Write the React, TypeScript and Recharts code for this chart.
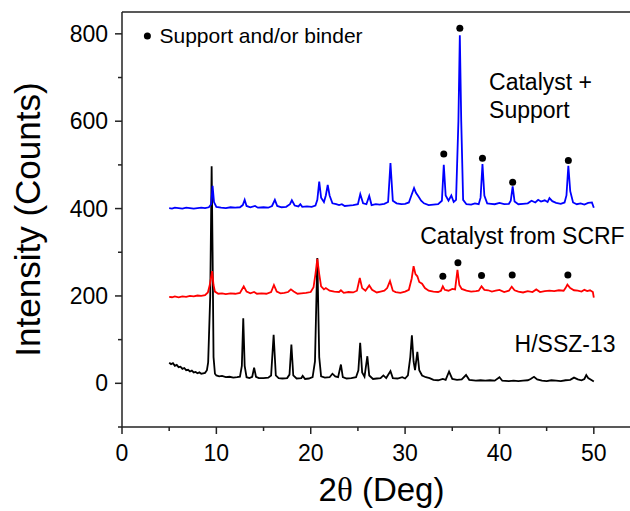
import { ComposedChart, Line, Scatter, XAxis, YAxis, ReferenceLine, ReferenceDot } from "recharts";

// [2θ, counts]
const hssz13: [number, number][] = [
  [5.0, 47], [5.2, 44], [5.4, 46], [5.6, 40], [5.8, 42], [6.0, 37], [6.2, 38], [6.4, 33], [6.6, 35], [6.8, 30],
  [7.0, 31], [7.2, 27], [7.4, 29], [7.6, 25], [7.8, 26], [8.0, 23], [8.2, 25], [8.4, 22], [8.6, 23], [8.8, 24],
  [9.0, 30], [9.13, 48], [9.35, 200], [9.5, 497], [9.6, 300], [9.7, 60], [9.85, 22], [10.0, 18], [10.3, 16], [10.6, 17],
  [11.0, 14], [11.4, 15], [11.8, 13], [12.2, 14], [12.5, 15], [12.7, 40], [12.85, 149], [13.0, 40], [13.2, 14], [13.5, 12],
  [13.8, 15], [14.0, 36], [14.2, 15], [14.5, 12], [15.0, 12], [15.5, 13], [15.8, 18], [16.07, 111], [16.3, 18], [16.6, 12],
  [17.0, 11], [17.5, 12], [17.75, 20], [17.95, 89], [18.15, 18], [18.5, 11], [19.0, 12], [19.15, 17], [19.4, 10], [19.8, 11],
  [20.2, 14], [20.45, 50], [20.7, 287], [20.9, 60], [21.1, 16], [21.5, 13], [22.0, 14], [22.3, 22], [22.6, 16], [22.9, 14],
  [23.2, 43], [23.4, 14], [23.8, 11], [24.3, 12], [24.8, 14], [25.05, 30], [25.24, 93], [25.45, 25], [25.7, 15], [26.0, 62],
  [26.2, 18], [26.6, 10], [27.0, 11], [27.4, 12], [27.7, 18], [28.0, 12], [28.45, 28], [28.7, 12], [29.2, 11], [29.7, 14],
  [30.0, 11], [30.3, 18], [30.55, 60], [30.72, 110], [30.9, 50], [31.05, 30], [31.3, 72], [31.5, 30], [31.8, 18], [32.2, 14],
  [32.6, 12], [33.0, 8], [33.5, 7], [34.0, 10], [34.3, 8], [34.66, 27], [35.0, 10], [35.5, 8], [36.0, 9], [36.46, 19],
  [36.8, 8], [37.5, 6], [38.0, 7], [38.5, 6], [39.0, 7], [39.5, 6], [40.0, 14], [40.3, 6], [41.0, 5], [41.5, 6],
  [42.0, 5], [42.5, 6], [43.0, 7], [43.3, 10], [43.66, 15], [44.0, 9], [44.5, 6], [45.0, 5], [45.5, 7], [46.0, 6],
  [46.5, 5], [47.0, 7], [47.5, 8], [47.9, 13], [48.3, 9], [48.7, 7], [49.0, 10], [49.2, 19], [49.4, 12], [49.7, 8], [50.0, 4],
];

const fromScrf: [number, number][] = [
  [5.0, 198], [5.3, 197], [5.6, 199], [6.0, 197], [6.4, 199], [6.8, 198], [7.2, 200], [7.6, 199], [8.0, 201], [8.4, 200],
  [8.8, 202], [9.1, 208], [9.3, 225], [9.55, 257], [9.7, 225], [9.85, 210], [10.2, 205], [10.6, 206], [11.0, 204], [11.5, 206],
  [12.0, 205], [12.5, 207], [12.9, 222], [13.2, 210], [13.6, 206], [14.0, 209], [14.3, 205], [14.8, 206], [15.3, 205], [15.8, 209],
  [16.1, 225], [16.4, 210], [16.8, 206], [17.2, 207], [17.6, 209], [17.9, 215], [18.2, 210], [18.6, 205], [19.0, 206], [19.5, 207],
  [20.0, 209], [20.3, 220], [20.5, 250], [20.7, 285], [20.9, 250], [21.1, 222], [21.4, 215], [21.6, 218], [22.0, 212], [22.5, 210],
  [23.0, 209], [23.2, 213], [23.5, 207], [24.0, 209], [24.5, 208], [24.9, 212], [25.2, 241], [25.45, 218], [25.8, 212], [26.2, 224],
  [26.5, 214], [27.0, 208], [27.4, 210], [27.8, 212], [28.1, 218], [28.4, 234], [28.7, 212], [29.0, 209], [29.5, 207], [30.0, 210],
  [30.4, 214], [30.7, 240], [30.9, 268], [31.1, 250], [31.3, 245], [31.5, 232], [31.8, 228], [32.1, 218], [32.5, 212], [33.0, 210],
  [33.5, 209], [33.8, 212], [34.0, 222], [34.2, 214], [34.6, 212], [35.0, 216], [35.3, 215], [35.55, 260], [35.75, 225], [36.0, 216],
  [36.5, 212], [37.0, 210], [37.5, 211], [37.8, 212], [38.1, 222], [38.4, 214], [38.8, 213], [39.2, 210], [39.6, 212], [40.0, 214],
  [40.5, 209], [41.0, 212], [41.3, 221], [41.6, 213], [42.0, 210], [42.5, 208], [43.0, 211], [43.5, 209], [43.9, 215], [44.3, 209],
  [44.8, 211], [45.3, 212], [45.8, 211], [46.3, 213], [46.8, 212], [47.0, 218], [47.2, 226], [47.5, 218], [47.9, 213], [48.3, 212],
  [48.7, 210], [49.0, 214], [49.3, 211], [49.6, 213], [49.9, 209], [50.0, 196],
];

const withSupport: [number, number][] = [
  [5.0, 401], [5.3, 400], [5.6, 402], [6.0, 401], [6.4, 400], [6.8, 402], [7.2, 401], [7.6, 400], [8.0, 401], [8.4, 402],
  [8.8, 401], [9.2, 403], [9.45, 410], [9.6, 452], [9.75, 415], [10.0, 404], [10.5, 402], [11.0, 401], [11.5, 403], [12.0, 402],
  [12.5, 403], [12.8, 408], [13.0, 420], [13.2, 406], [13.6, 403], [14.1, 406], [14.4, 402], [15.0, 403], [15.5, 402], [15.9, 406],
  [16.2, 420], [16.45, 406], [16.9, 403], [17.4, 404], [17.8, 410], [18.0, 419], [18.3, 407], [18.7, 405], [18.9, 410], [19.1, 404],
  [19.6, 405], [20.1, 404], [20.5, 407], [20.7, 420], [20.9, 462], [21.1, 425], [21.4, 415], [21.6, 430], [21.8, 454], [22.0, 430],
  [22.3, 412], [22.7, 410], [23.0, 408], [23.3, 410], [23.6, 406], [24.0, 407], [24.5, 408], [25.0, 410], [25.25, 433], [25.55, 412],
  [25.9, 410], [26.2, 429], [26.45, 408], [26.9, 410], [27.3, 409], [27.8, 411], [28.2, 415], [28.45, 504], [28.7, 418], [29.1, 412],
  [29.6, 410], [30.0, 411], [30.4, 414], [30.75, 435], [30.95, 447], [31.15, 436], [31.4, 428], [31.7, 418], [32.0, 412], [32.5, 408],
  [33.0, 409], [33.5, 410], [33.9, 418], [34.1, 500], [34.3, 430], [34.6, 418], [34.9, 430], [35.15, 415], [35.4, 420], [35.65, 600],
  [35.8, 797], [35.95, 600], [36.15, 420], [36.5, 410], [37.0, 409], [37.4, 412], [37.8, 410], [38.0, 425], [38.2, 502], [38.4, 430],
  [38.7, 412], [39.1, 411], [39.5, 410], [40.0, 413], [40.5, 410], [41.0, 411], [41.2, 418], [41.4, 451], [41.6, 416], [42.0, 410],
  [42.5, 411], [43.0, 412], [43.4, 418], [43.8, 414], [44.1, 420], [44.4, 416], [44.8, 419], [45.1, 415], [45.3, 424], [45.6, 417],
  [46.0, 413], [46.5, 411], [46.9, 414], [47.1, 430], [47.3, 498], [47.5, 440], [47.8, 414], [48.2, 410], [48.6, 412], [49.0, 409],
  [49.4, 413], [49.8, 414], [50.0, 402],
];

// support / binder markers
const supportMarks: [number, number][] = [
  [2.69, 795],
  [34.1, 525], [35.8, 813], [38.2, 515], [41.4, 460], [47.3, 510],
  [34.0, 245], [35.6, 276], [38.1, 247], [41.35, 248], [47.25, 248],
];

const annotations: { x: number; y: number; text: string; size: number }[] = [
  { x: 3.97, y: 780, text: "Support and/or binder", size: 21 },
  { x: 38.9, y: 672, text: "Catalyst +", size: 23 },
  { x: 38.9, y: 607, text: "Support", size: 23 },
  { x: 31.6, y: 319, text: "Catalyst from SCRF", size: 23 },
  { x: 41.6, y: 72, text: "H/SSZ-13", size: 23 },
];

const xTicks = [0, 5, 10, 15, 20, 25, 30, 35, 40, 45, 50, 55];
const yTicks = [-100, 0, 100, 200, 300, 400, 500, 600, 700, 800];

const toPoints = (arr: [number, number][]) => arr.map(([x, y]) => ({ x, y }));

const FONT = "'Liberation Sans', Arial, sans-serif";
const AXIS = "#222";

const YTick = ({ x, y, payload }: any) => {
  const major = payload.value % 200 === 0;
  return (
    <g>
      <line x1={x - (major ? 7 : 4)} x2={x} y1={y} y2={y} stroke={AXIS} strokeWidth={1.5} />
      {major && (
        <text x={x - 14} y={y + 8} textAnchor="end" fontSize={23} fontFamily={FONT} fill="#000">
          {payload.value}
        </text>
      )}
    </g>
  );
};

const XTick = ({ x, y, payload }: any) => {
  const major = payload.value % 10 === 0;
  return (
    <g>
      <line x1={x} x2={x} y1={y} y2={y + (major ? 7 : 4)} stroke={AXIS} strokeWidth={1.5} />
      {major && (
        <text x={x} y={y + 34} textAnchor="middle" fontSize={23} fontFamily={FONT} fill="#000">
          {payload.value}
        </text>
      )}
    </g>
  );
};

export default function App() {
  return (
    <div style={{ position: "absolute", left: 0, top: 0, width: 630, height: 511, overflow: "hidden", background: "#fff" }}>
      <ComposedChart width={660} height={511} margin={{ top: 12, right: 19, bottom: 0, left: 0 }}>
        <XAxis
          type="number"
          dataKey="x"
          domain={[0, 55]}
          ticks={xTicks}
          interval={0}
          allowDataOverflow
          height={84}
          tickSize={0}
          tickMargin={0}
          tickLine={false}
          axisLine={{ stroke: AXIS, strokeWidth: 1.5 }}
          tick={<XTick />}
          label={{
            content: ({ viewBox }: any) => (
              <text x={viewBox.x + viewBox.width / 2} y={viewBox.y + 74} textAnchor="middle" fontSize={33} fontFamily={FONT} fill="#000">
                2<tspan fontFamily="'Liberation Serif', serif">θ</tspan> (Deg)
              </text>
            ),
          }}
        />
        <YAxis
          type="number"
          dataKey="y"
          domain={[-100, 850]}
          ticks={yTicks}
          interval={0}
          allowDataOverflow
          width={122}
          tickSize={0}
          tickMargin={0}
          tickLine={false}
          axisLine={{ stroke: AXIS, strokeWidth: 1.5 }}
          tick={<YTick />}
          label={{
            content: ({ viewBox }: any) => {
              const cx = 40;
              const cy = viewBox.y + viewBox.height / 2;
              return (
                <text x={cx} y={cy} transform={`rotate(-90, ${cx}, ${cy})`} textAnchor="middle" fontSize={35} fontFamily={FONT} fill="#000">
                  Intensity (Counts)
                </text>
              );
            },
          }}
        />
        <ReferenceLine y={850} stroke={AXIS} strokeWidth={1.5} />
        <ReferenceLine x={55} stroke={AXIS} strokeWidth={1.5} />
        <Line data={toPoints(hssz13)} dataKey="y" type="linear" stroke="#000000" strokeWidth={1.8} dot={false} isAnimationActive={false} />
        <Line data={toPoints(fromScrf)} dataKey="y" type="linear" stroke="#ff0000" strokeWidth={1.8} dot={false} isAnimationActive={false} />
        <Line data={toPoints(withSupport)} dataKey="y" type="linear" stroke="#0000ff" strokeWidth={1.8} dot={false} isAnimationActive={false} />
        <Scatter
          data={toPoints(supportMarks)}
          dataKey="y"
          fill="#000"
          isAnimationActive={false}
          shape={(p: any) => <circle cx={p.cx} cy={p.cy} r={3.5} fill="#000" />}
        />
        {annotations.map((a) => (
          <ReferenceDot
            key={a.text}
            x={a.x}
            y={a.y}
            r={0}
            shape={(p: any) => (
              <text x={p.cx} y={p.cy} fontSize={a.size} fontFamily={FONT} fill="#000">
                {a.text}
              </text>
            )}
          />
        ))}
      </ComposedChart>
    </div>
  );
}
